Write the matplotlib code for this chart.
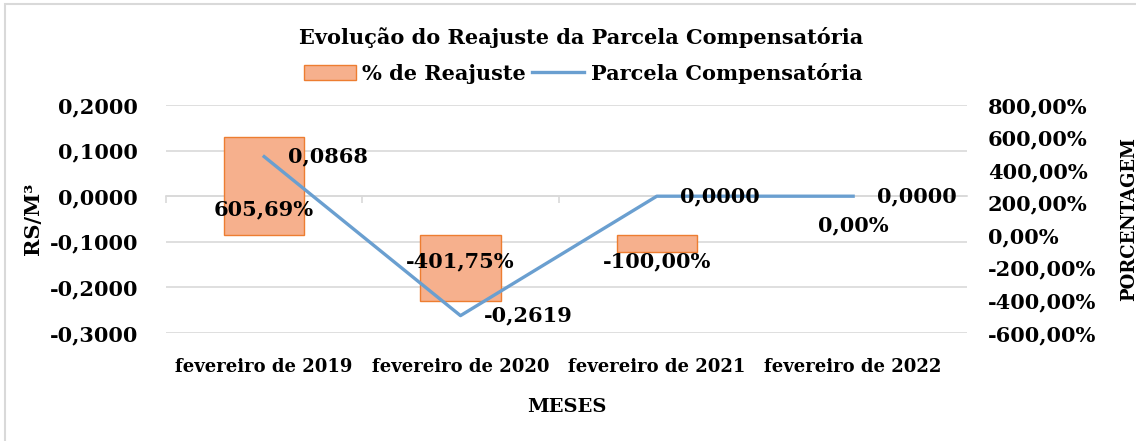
import numpy as np
import matplotlib
matplotlib.use('Agg')
import matplotlib.pyplot as plt
from matplotlib.patches import Rectangle

# data
meses = ['fevereiro de 2019', 'fevereiro de 2020', 'fevereiro de 2021', 'fevereiro de 2022']
reajuste = [6.0569, -4.0175, -1.0000, 0.0]          # % de Reajuste (fraction)
parcela = [0.0868, -0.2619, 0.0000, 0.0000]           # R$/M3
reajuste_labels = ['605,69%', '-401,75%', '-100,00%', '0,00%']
parcela_labels = ['0,0868', '-0,2619', '0,0000', '0,0000']

plt.rcParams['font.family'] = ['DejaVu Serif']
plt.rcParams['font.weight'] = 'bold'
FS = 15

bar_color = '#F6B08D'
edge_color = '#ED7D31'
line_color = '#6A9FD0'
grid_color = '#D9D9D9'

fig = plt.figure(figsize=(11.36, 4.41), dpi=100)
ax = fig.add_axes([166/1136, 1-333/441, 801/1136, 228/441])
x = np.arange(len(meses))

# left axis: R$/M3 grid
yt = np.arange(-0.3, 0.21, 0.1)
ax.set_ylim(-0.3, 0.2)
ax.set_yticks(yt)
ax.set_yticklabels([('%.4f' % v).replace('.', ',').replace('-0,0000', '0,0000') for v in yt])
ax.grid(axis='y', color=grid_color, lw=1.2)
ax.set_axisbelow(True)
ax.set_xlim(-0.5, 3.58)
ax.set_xticks(x)
ax.set_xticklabels(meses, fontsize=13)
ax.tick_params(axis='x', length=0, pad=18)
ax.tick_params(axis='y', length=0, pad=20, labelsize=FS)
for s in ax.spines.values():
    s.set_visible(False)
ax.set_ylabel('RS/M³', fontsize=FS, fontweight='bold')
ax.yaxis.set_label_coords(-0.154, 0.5)
ax.set_xlabel('MESES', fontsize=14, fontweight='bold')
ax.xaxis.set_label_coords(0.5, -0.285)

# axis line at zero with tick marks between categories (pointing down)
sec = ax.secondary_xaxis(0.6)
sec.set_alignment('bottom')
sec.set_xticks(np.arange(-0.5, 4, 1))
sec.set_xticklabels([])
sec.tick_params(length=5, color=grid_color, width=1.2, direction='out',
                labelbottom=False, labeltop=False)
for s in sec.spines.values():
    s.set_color(grid_color)
    s.set_linewidth(1.2)

# right axis: bars
ax2 = ax.twinx()
bars = ax2.bar(x, reajuste, width=0.41, color=bar_color, edgecolor=edge_color,
               linewidth=[1 if v != 0 else 0 for v in reajuste], label='% de Reajuste')
ax2.set_ylim(-6, 8)
yt2 = np.arange(-6, 8.1, 2)
ax2.set_yticks(yt2)
ax2.set_yticklabels([('%.2f%%' % (v*100)).replace('.', ',') for v in yt2])
ax2.tick_params(axis='y', length=0, pad=15, labelsize=FS)
for s in ax2.spines.values():
    s.set_visible(False)
ax2.set_ylabel('PORCENTAGEM', fontsize=13, fontweight='bold')
ax2.yaxis.set_label_coords(1.191, 0.5)

bar_offsets = [19, -19, -19, 7]
for i, (lab, off) in enumerate(zip(reajuste_labels, bar_offsets)):
    ax2.annotate(lab, (x[i], 0), xytext=(0, off), textcoords='offset points',
                 ha='center', va='center', fontsize=FS)

# line on top
ax3 = ax.twinx()
ax3.set_ylim(ax.get_ylim())
ax3.axis('off')
line, = ax3.plot(x, parcela, color=line_color, lw=2.4, label='Parcela Compensatória')
for i, lab in enumerate(parcela_labels):
    ax3.annotate(lab, (x[i], parcela[i]), xytext=(17, 0), textcoords='offset points',
                 ha='left', va='center', fontsize=FS)

fig.text(581/1136, 1-38/441, 'Evolução do Reajuste da Parcela Compensatória',
         ha='center', va='center', fontsize=FS)
fig.legend([bars, line], ['% de Reajuste', 'Parcela Compensatória'],
           loc='center', bbox_to_anchor=(583/1136, 1-73/441), ncol=2, frameon=False,
           fontsize=FS, handlelength=2.5, handleheight=0.7, handletextpad=0.3,
           columnspacing=0.3)

fig.add_artist(Rectangle((5/1136, -0.1), 1.2, 1.1-4/441, transform=fig.transFigure,
                         fill=False, edgecolor=grid_color, lw=1.5))

fig.savefig('out.png', dpi=100)
